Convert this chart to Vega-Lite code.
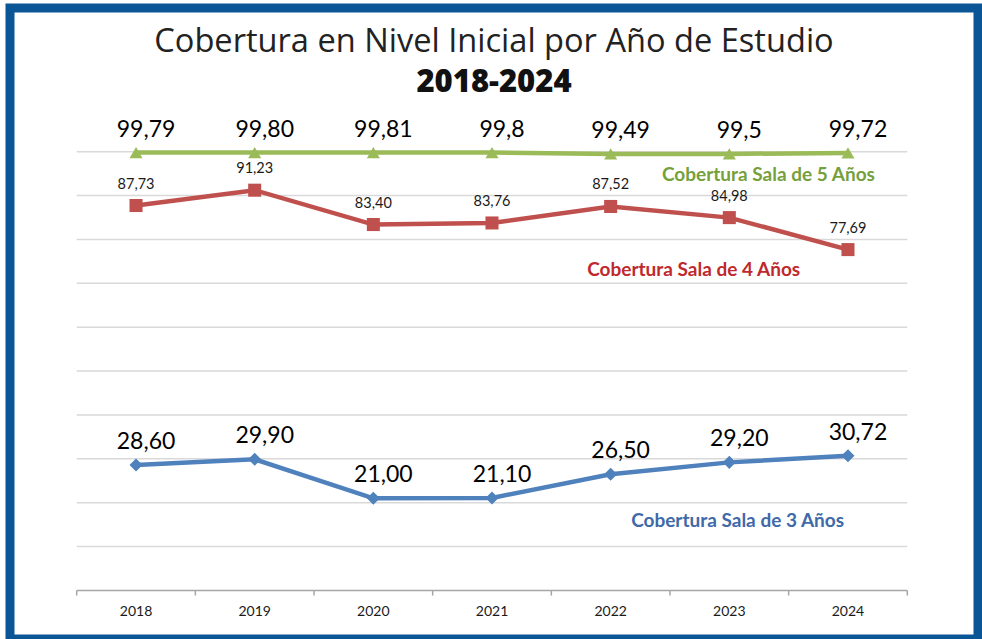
{
  "$schema": "https://vega.github.io/schema/vega-lite/v6.json",
  "width": 968,
  "height": 631,
  "autosize": {"type": "none"},
  "padding": {"left": 10, "top": 8, "right": 4, "bottom": 0},
  "background": "white",
  "config": {
    "view": {"stroke": "#0a5596", "strokeWidth": 9, "fill": "white"}
  },
  "title": {
    "text": "Cobertura en Nivel Inicial por Año de Estudio",
    "subtitle": "2018-2024",
    "anchor": "middle",
    "frame": "group",
    "offset": -90,
    "font": "Open Sans",
    "fontSize": 32.6,
    "fontWeight": "normal",
    "color": "#222222",
    "subtitleFont": "Open Sans",
    "subtitleFontSize": 31,
    "subtitleFontWeight": 800,
    "subtitleColor": "#111111",
    "subtitlePadding": 9.5
  },
  "datasets": {
    "cobertura": [
      {"anio": 2018, "serie": "Sala de 5 Años", "valor": 99.79, "etiqueta": "99,79"},
      {"anio": 2019, "serie": "Sala de 5 Años", "valor": 99.80, "etiqueta": "99,80"},
      {"anio": 2020, "serie": "Sala de 5 Años", "valor": 99.81, "etiqueta": "99,81"},
      {"anio": 2021, "serie": "Sala de 5 Años", "valor": 99.8, "etiqueta": "99,8"},
      {"anio": 2022, "serie": "Sala de 5 Años", "valor": 99.49, "etiqueta": "99,49"},
      {"anio": 2023, "serie": "Sala de 5 Años", "valor": 99.5, "etiqueta": "99,5"},
      {"anio": 2024, "serie": "Sala de 5 Años", "valor": 99.72, "etiqueta": "99,72"},
      {"anio": 2018, "serie": "Sala de 4 Años", "valor": 87.73, "etiqueta": "87,73"},
      {"anio": 2019, "serie": "Sala de 4 Años", "valor": 91.23, "etiqueta": "91,23"},
      {"anio": 2020, "serie": "Sala de 4 Años", "valor": 83.40, "etiqueta": "83,40"},
      {"anio": 2021, "serie": "Sala de 4 Años", "valor": 83.76, "etiqueta": "83,76"},
      {"anio": 2022, "serie": "Sala de 4 Años", "valor": 87.52, "etiqueta": "87,52"},
      {"anio": 2023, "serie": "Sala de 4 Años", "valor": 84.98, "etiqueta": "84,98"},
      {"anio": 2024, "serie": "Sala de 4 Años", "valor": 77.69, "etiqueta": "77,69"},
      {"anio": 2018, "serie": "Sala de 3 Años", "valor": 28.60, "etiqueta": "28,60"},
      {"anio": 2019, "serie": "Sala de 3 Años", "valor": 29.90, "etiqueta": "29,90"},
      {"anio": 2020, "serie": "Sala de 3 Años", "valor": 21.00, "etiqueta": "21,00"},
      {"anio": 2021, "serie": "Sala de 3 Años", "valor": 21.10, "etiqueta": "21,10"},
      {"anio": 2022, "serie": "Sala de 3 Años", "valor": 26.50, "etiqueta": "26,50"},
      {"anio": 2023, "serie": "Sala de 3 Años", "valor": 29.20, "etiqueta": "29,20"},
      {"anio": 2024, "serie": "Sala de 3 Años", "valor": 30.72, "etiqueta": "30,72"}
    ],
    "grilla": [{"v": 10}, {"v": 20}, {"v": 30}, {"v": 40}, {"v": 50}, {"v": 60}, {"v": 70}, {"v": 80}, {"v": 90}, {"v": 100}],
    "marcas": [{"b": 2017.5}, {"b": 2018.5}, {"b": 2019.5}, {"b": 2020.5}, {"b": 2021.5}, {"b": 2022.5}, {"b": 2023.5}, {"b": 2024.5}],
    "anios": [{"anio": 2018}, {"anio": 2019}, {"anio": 2020}, {"anio": 2021}, {"anio": 2022}, {"anio": 2023}, {"anio": 2024}]
  },
  "layer": [
    {
      "data": {"name": "grilla"},
      "mark": {"type": "rule", "color": "#d9d9d9", "strokeWidth": 1.5},
      "encoding": {
        "x": {"datum": 2017.5, "type": "quantitative", "axis": null, "scale": {"domain": [2017.5, 2024.5], "range": [66.7, 897.3], "nice": false, "zero": false}},
        "x2": {"datum": 2024.5},
        "y": {"field": "v", "type": "quantitative", "axis": null, "scale": {"domain": [0, 100], "range": [582.5, 143.7], "nice": false, "zero": false}}
      }
    },
    {
      "data": {"values": [{"base": 0}]},
      "mark": {"type": "rule", "color": "#a6a6a6", "strokeWidth": 1.5},
      "encoding": {
        "x": {"datum": 2017.5, "type": "quantitative", "axis": null},
        "x2": {"datum": 2024.5},
        "y": {"field": "base", "type": "quantitative", "axis": null}
      }
    },
    {
      "data": {"name": "marcas"},
      "mark": {"type": "rule", "color": "#a6a6a6", "strokeWidth": 1.5},
      "encoding": {
        "x": {"field": "b", "type": "quantitative", "axis": null},
        "y": {"datum": 0, "type": "quantitative", "axis": null},
        "y2": {"datum": -1.15}
      }
    },
    {
      "data": {"name": "anios"},
      "mark": {"type": "text", "font": "Lato", "fontSize": 14, "color": "#1a1a1a", "baseline": "middle", "dy": 21.5},
      "encoding": {
        "x": {"field": "anio", "type": "quantitative", "axis": null},
        "y": {"datum": 0, "type": "quantitative", "axis": null},
        "text": {"field": "anio", "type": "nominal"}
      }
    },
    {
      "data": {"name": "cobertura"},
      "mark": {"type": "line", "strokeWidth": 4.5},
      "encoding": {
        "x": {"field": "anio", "type": "quantitative", "axis": null},
        "y": {"field": "valor", "type": "quantitative", "axis": null},
        "color": {"field": "serie", "type": "nominal", "legend": null, "scale": {"domain": ["Sala de 5 Años", "Sala de 4 Años", "Sala de 3 Años"], "range": ["#9bbb59", "#c0504d", "#4f81bd"]}}
      }
    },
    {
      "data": {"name": "cobertura"},
      "mark": {"type": "point", "filled": true, "opacity": 1, "size": 170},
      "encoding": {
        "x": {"field": "anio", "type": "quantitative", "axis": null},
        "y": {"field": "valor", "type": "quantitative", "axis": null},
        "color": {"field": "serie", "type": "nominal", "legend": null},
        "shape": {"field": "serie", "type": "nominal", "legend": null, "scale": {"domain": ["Sala de 5 Años", "Sala de 4 Años", "Sala de 3 Años"], "range": ["triangle-up", "square", "diamond"]}}
      }
    },
    {
      "data": {"name": "cobertura"},
      "transform": [{"filter": "datum.serie !== 'Sala de 4 Años'"}],
      "mark": {"type": "text", "font": "Lato", "fontSize": 23, "color": "#000000", "baseline": "alphabetic", "dy": -16, "dx": 10},
      "encoding": {
        "x": {"field": "anio", "type": "quantitative", "axis": null},
        "y": {"field": "valor", "type": "quantitative", "axis": null},
        "text": {"field": "etiqueta", "type": "nominal"}
      }
    },
    {
      "data": {"name": "cobertura"},
      "transform": [{"filter": "datum.serie === 'Sala de 4 Años'"}],
      "mark": {"type": "text", "font": "Lato", "fontSize": 14.5, "color": "#1a1a1a", "baseline": "alphabetic", "dy": -17},
      "encoding": {
        "x": {"field": "anio", "type": "quantitative", "axis": null},
        "y": {"field": "valor", "type": "quantitative", "axis": null},
        "text": {"field": "etiqueta", "type": "nominal"}
      }
    },
    {
      "data": {"values": [{"nombre": "Cobertura Sala de 5 Años"}]},
      "mark": {"type": "text", "font": "Lato", "fontWeight": "bold", "fontSize": 19, "color": "#76a03c", "baseline": "middle"},
      "encoding": {
        "x": {"datum": 2023.33, "type": "quantitative", "axis": null},
        "y": {"datum": 94.6, "type": "quantitative", "axis": null},
        "text": {"field": "nombre", "type": "nominal"}
      }
    },
    {
      "data": {"values": [{"nombre": "Cobertura Sala de 4 Años"}]},
      "mark": {"type": "text", "font": "Lato", "fontWeight": "bold", "fontSize": 19, "color": "#c0282c", "baseline": "middle"},
      "encoding": {
        "x": {"datum": 2022.70, "type": "quantitative", "axis": null},
        "y": {"datum": 73.0, "type": "quantitative", "axis": null},
        "text": {"field": "nombre", "type": "nominal"}
      }
    },
    {
      "data": {"values": [{"nombre": "Cobertura Sala de 3 Años"}]},
      "mark": {"type": "text", "font": "Lato", "fontWeight": "bold", "fontSize": 19, "color": "#4069a8", "baseline": "middle"},
      "encoding": {
        "x": {"datum": 2023.07, "type": "quantitative", "axis": null},
        "y": {"datum": 15.8, "type": "quantitative", "axis": null},
        "text": {"field": "nombre", "type": "nominal"}
      }
    }
  ]
}
